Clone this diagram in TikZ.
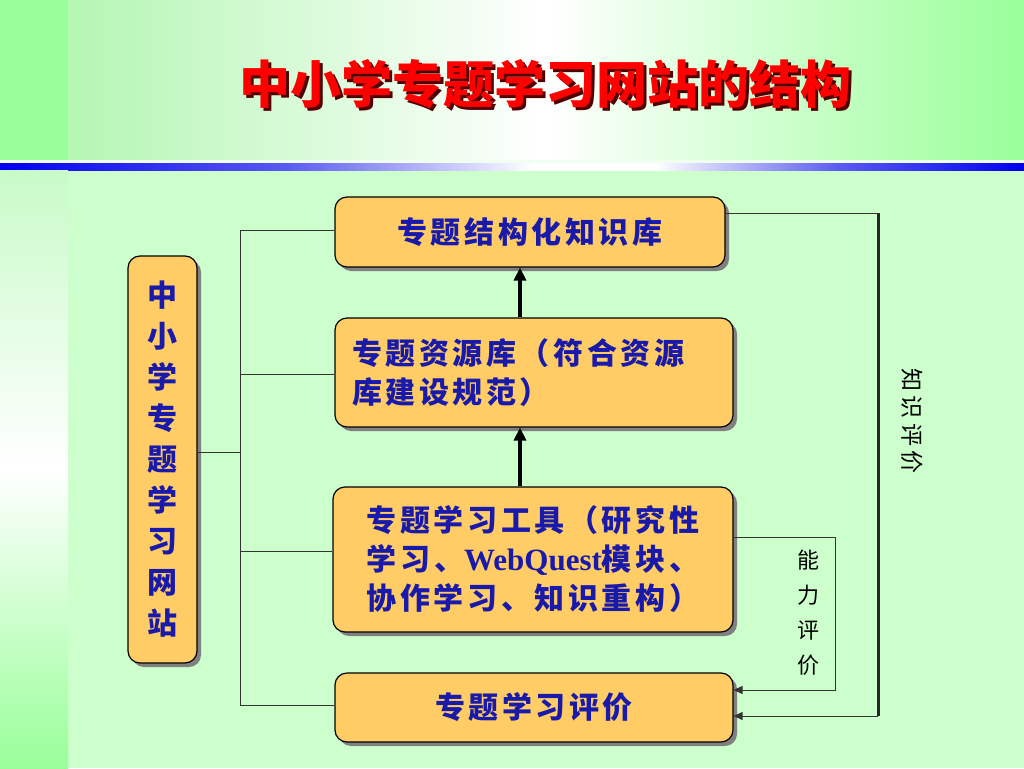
\documentclass[tikz,border=0pt]{standalone}
\usepackage{fontspec}
\usetikzlibrary{shadows,arrows.meta,calc}
\setmainfont{Liberation Serif}
\newfontfamily\cjk{Noto Sans CJK SC}
\newfontfamily\cjksp{Noto Sans CJK SC}[LetterSpace=12]
\newfontfamily\cjkwide{Noto Sans CJK SC}[LetterSpace=18]
\newfontfamily\lat{Liberation Serif}
\definecolor{boxfill}{HTML}{FFCC66}
\definecolor{boxtext}{HTML}{1A1AAA}
\definecolor{bgmain}{HTML}{CCFFCC}
\definecolor{bgg}{HTML}{99FF99}
\definecolor{bandl}{HTML}{B4F6B4}
\definecolor{stript}{HTML}{C8FAC8}
\definecolor{lineblue}{HTML}{0000EE}
\definecolor{edge}{HTML}{333333}
\definecolor{titleshadow}{HTML}{500000}
\pgfdeclarehorizontalshading{bluelineshade}{100bp}{color(0bp)=(lineblue); color(25bp)=(lineblue); color(39bp)=(lineblue!65!white); color(51bp)=(white); color(57bp)=(white); color(66bp)=(lineblue!65!white); color(75bp)=(lineblue); color(100bp)=(lineblue)}
\begin{document}
\begin{tikzpicture}[x=1pt,y=-1pt,
  sbox/.style={draw=black, line width=1.2pt, fill=boxfill, rounded corners=12pt,
    drop shadow={shadow xshift=4pt, shadow yshift=-4pt, fill=black!50, opacity=1},
    text=boxtext, inner sep=0pt},
  boxtxt/.style={font=\cjksp\bfseries\fontsize{30}{39}\selectfont},
  thinline/.style={draw=edge, line width=1pt},
  thickarrow/.style={draw=black, line width=3.5pt, -{Triangle[length=13pt,width=12pt]}},
  smallarrow/.style={-{Triangle[length=9pt,width=8pt]}},
  titlefont/.style={font=\cjk\bfseries\fontsize{51}{51}\selectfont},
  sidelabel/.style={font=\cjk\fontsize{22}{35}\selectfont, text=black, inner sep=0pt}
]
\useasboundingbox (0,0) rectangle (1024,768);
% background
\fill[bgmain] (0,0) rectangle (1024,768);
\shade[left color=bandl, right color=bgg, middle color=white] (68,0) rectangle (1024,161);
\fill[bgg] (0,0) rectangle (68,161);
\fill[white!70!bgmain] (0,160) rectangle (1024,163);
\shade[shading=bluelineshade] (0,163) rectangle (1024,170);
\shade[top color=stript, bottom color=bgg, middle color=white] (0,170) rectangle (68,768);

% title (with its drop shadow in the same node)
\node[titlefont, text=red] (title) at (545,86)
  {\rlap{\hspace{3pt}\raisebox{-3pt}{\textcolor{titleshadow}{中小学专题学习网站的结构}}}中小学专题学习网站的结构};

% boxes
\node[sbox, boxtxt, minimum width=390pt, minimum height=70pt] (A) at (530,232) {专题结构化知识库};
\node[sbox, boxtxt, text width=364pt, inner xsep=17pt, minimum height=109pt, align=left] (B) at (534,372.5) {专题资源库（符合资源\\库建设规范）};
\node[sbox, boxtxt, text width=370pt, inner xsep=15pt, minimum height=145pt, align=center] (C) at (533,559.5) {专题学习工具（研究性\\学习、{\lat\bfseries\fontsize{31}{39}\selectfont WebQuest}模块、\\协作学习、知识重构）};
\node[sbox, boxtxt, minimum width=398pt, minimum height=69pt] (D) at (534,707.5) {专题学习评价};
\node[sbox, font=\cjk\bfseries\fontsize{30}{41}\selectfont, minimum width=69pt, minimum height=407pt, align=center] (L) at (162.5,459.5) {中\\小\\学\\专\\题\\学\\习\\网\\站};

% left bus
\coordinate (busT) at (240,230);
\coordinate (busM) at (240,452);
\coordinate (busB2) at (240,374);
\coordinate (busC) at (240,551);
\coordinate (busD) at (240,705);
\draw[thinline] (busT) -- (busD);
\draw[thinline] (L.east |- busM) -- (busM);
\draw[thinline] (busT) -- (busT -| A.west);
\draw[thinline] (busB2) -- (busB2 -| B.west);
\draw[thinline] (busC) -- (busC -| C.west);
\draw[thinline] (busD) -- (busD -| D.west);

% thick arrows
\coordinate (ax) at (520,0);
\draw[thickarrow] (ax |- B.north) -- (ax |- A.south);
\draw[thickarrow] (ax |- C.north) -- (ax |- B.south);

% knowledge evaluation loop
\coordinate (kT) at (878,213);
\coordinate (kB) at (878,716);
\draw[thinline] (kT -| A.east) -- (kT);
\draw[draw=black!85, line width=3pt] (kT) -- (kB);
\draw[thinline, smallarrow] (kB) -- (kB -| D.east);

% ability evaluation loop
\coordinate (nT) at (835,537);
\coordinate (nB) at (835,690);
\draw[thinline, smallarrow] (nT -| C.east) -- (nT) -- (nB) -- (nB -| D.east);

% labels
\node[sidelabel, align=center] (nl) at (808,613) {能\\力\\评\\价};
\node[sidelabel, font=\cjkwide\fontsize{23}{23}\selectfont, rotate=-90] (kl) at (912,421) {知识评价};
\end{tikzpicture}
\end{document}
